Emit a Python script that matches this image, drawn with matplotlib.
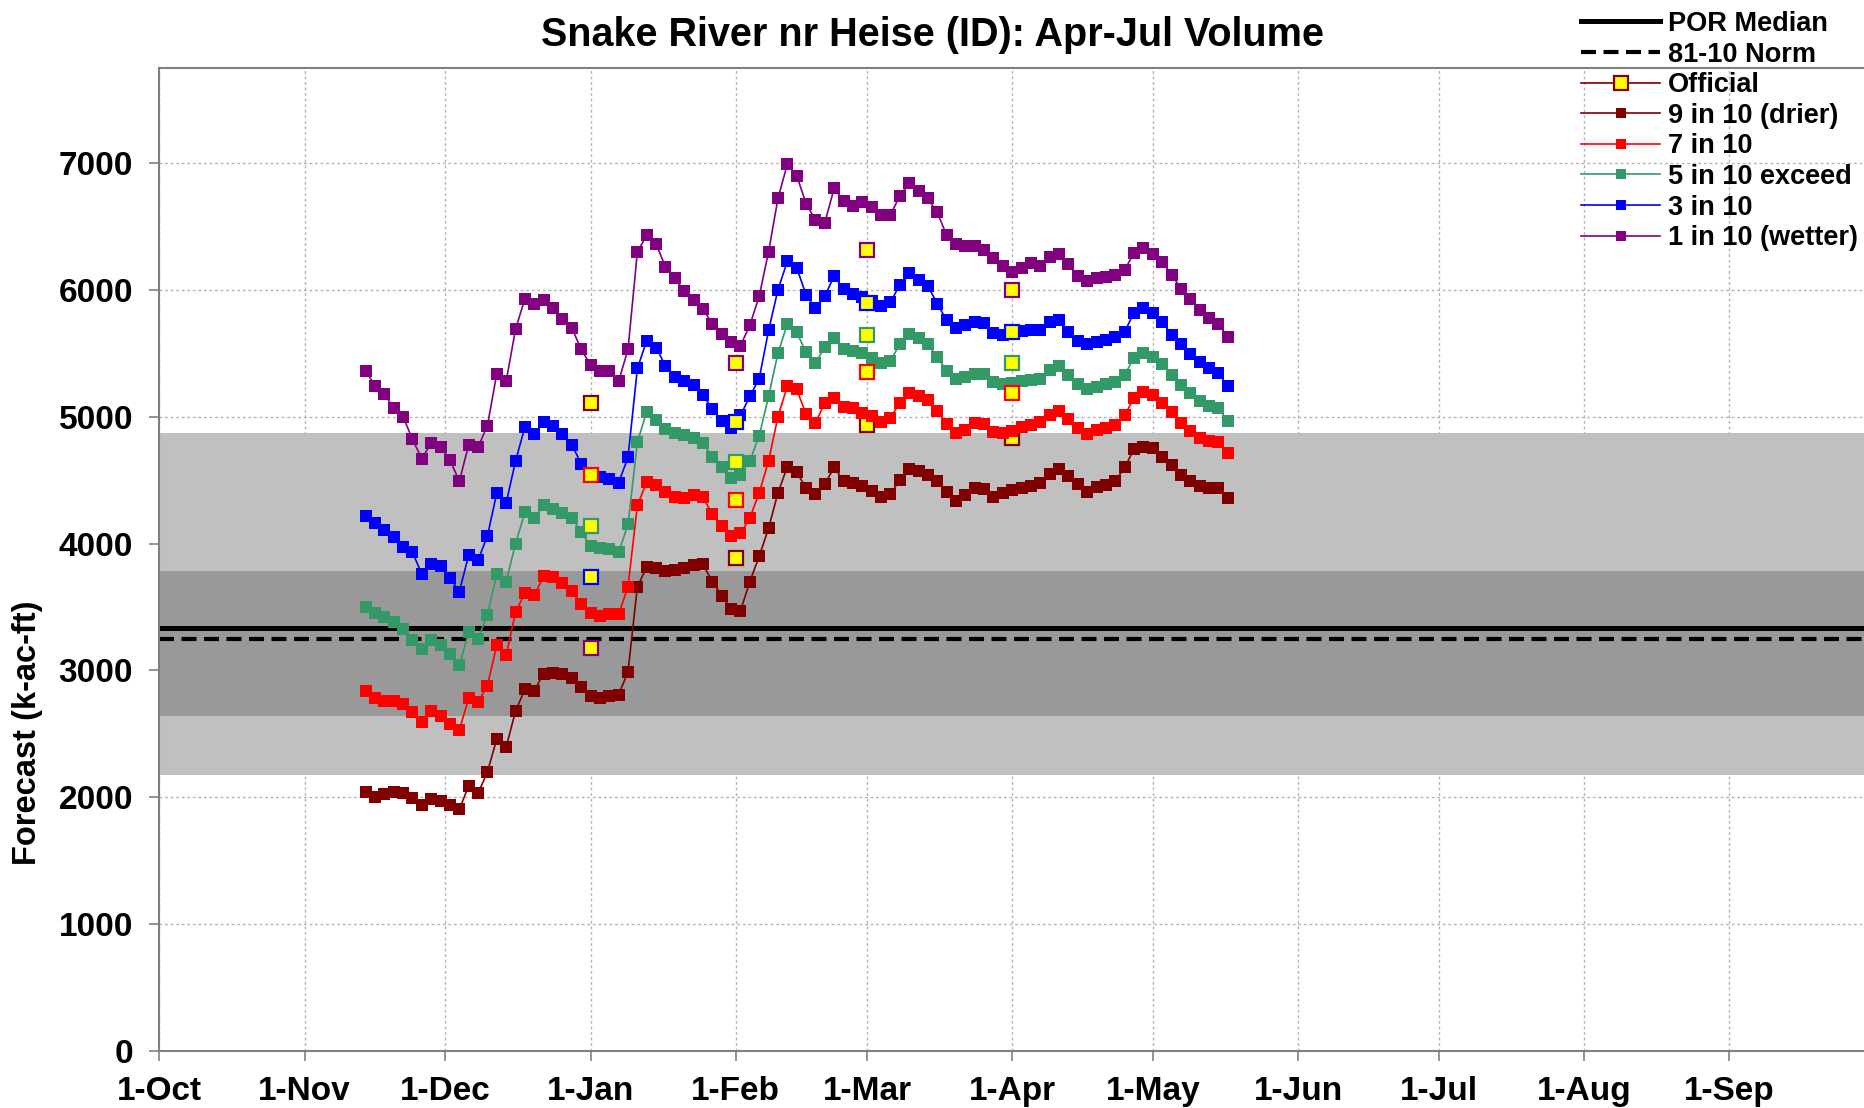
"""
Snake River nr Heise (ID): Apr-Jul volume forecast chart.
Daily-ish exceedance forecasts (read every 2 days) with official
monthly forecasts, POR median / 81-10 normal lines and the
normal ranges as grey bands.
"""

import numpy as np
import pandas as pd
import matplotlib
matplotlib.use("Agg")
import matplotlib.pyplot as plt
import matplotlib.dates as mdates
from matplotlib.lines import Line2D

plt.rcParams["font.family"] = ["Liberation Sans", "DejaVu Sans"]
plt.rcParams["font.weight"] = "bold"

# ----------------------------------------------------------------------
# DATA (k-ac-ft), forecast read every 2 days from 14-Nov to 17-May
# ----------------------------------------------------------------------
FCST_START = "2014-11-14"
FCST_STEP = "2D"

q90 = [2040, 2000, 2028, 2041, 2035, 1990, 1940, 1985, 1968, 1940,
       1905, 2090, 2030, 2200, 2460, 2395, 2680, 2850, 2840, 2975,
       2977, 2975, 2940, 2870, 2800, 2780, 2800, 2808, 2990, 3660,
       3815, 3805, 3782, 3790, 3807, 3830, 3835, 3700, 3590, 3480,
       3470, 3700, 3900, 4120, 4400, 4605, 4560, 4440, 4390, 4470,
       4600, 4495, 4475, 4450, 4415, 4370, 4390, 4500, 4590, 4575,
       4540, 4490, 4410, 4335, 4380, 4440, 4430, 4370, 4395, 4425,
       4438, 4450, 4480, 4545, 4590, 4530, 4470, 4410, 4447, 4465,
       4495, 4600, 4745, 4763, 4750, 4680, 4620, 4540, 4490, 4450,
       4435, 4434, 4355]

q70 = [2840, 2780, 2760, 2755, 2735, 2670, 2590, 2677, 2640, 2575,
       2530, 2780, 2750, 2880, 3200, 3120, 3460, 3610, 3595, 3740,
       3736, 3690, 3625, 3520, 3450, 3430, 3441, 3441, 3660, 4300,
       4485, 4460, 4405, 4370, 4360, 4380, 4365, 4230, 4140, 4060,
       4080, 4200, 4400, 4650, 5000, 5240, 5215, 5020, 4950, 5110,
       5150, 5080, 5066, 5030, 5005, 4960, 4990, 5110, 5190, 5165,
       5130, 5045, 4940, 4875, 4895, 4950, 4940, 4880, 4875, 4890,
       4915, 4938, 4960, 5010, 5045, 4985, 4910, 4860, 4895, 4910,
       4935, 5010, 5150, 5195, 5170, 5110, 5040, 4950, 4885, 4833,
       4806, 4803, 4711]

q50 = [3500, 3455, 3423, 3380, 3330, 3240, 3170, 3243, 3200, 3130,
       3040, 3300, 3250, 3440, 3760, 3700, 4000, 4245, 4200, 4300,
       4270, 4240, 4205, 4090, 3980, 3962, 3955, 3933, 4150, 4800,
       5040, 4970, 4900, 4875, 4855, 4833, 4790, 4680, 4600, 4520,
       4540, 4650, 4850, 5160, 5500, 5730, 5665, 5510, 5420, 5550,
       5620, 5530, 5515, 5500, 5465, 5420, 5440, 5570, 5650, 5618,
       5570, 5470, 5360, 5295, 5310, 5340, 5333, 5275, 5255, 5265,
       5280, 5290, 5300, 5365, 5400, 5330, 5260, 5215, 5235, 5255,
       5275, 5330, 5465, 5500, 5470, 5415, 5330, 5250, 5190, 5125,
       5085, 5068, 4966]

q30 = [4220, 4160, 4105, 4050, 3970, 3930, 3760, 3840, 3820, 3730,
       3620, 3910, 3870, 4060, 4400, 4320, 4650, 4920, 4860, 4960,
       4930, 4860, 4780, 4630, 4540, 4525, 4510, 4480, 4680, 5380,
       5600, 5545, 5400, 5315, 5280, 5250, 5170, 5060, 4965, 4910,
       5010, 5160, 5300, 5680, 6000, 6225, 6175, 5960, 5855, 5950,
       6110, 6005, 5970, 5945, 5915, 5875, 5900, 6040, 6130, 6080,
       6030, 5890, 5760, 5700, 5720, 5745, 5735, 5660, 5645, 5650,
       5675, 5682, 5680, 5745, 5760, 5670, 5600, 5570, 5590, 5605,
       5630, 5670, 5820, 5855, 5815, 5750, 5645, 5570, 5495, 5430,
       5380, 5345, 5240]

q10 = [5360, 5245, 5175, 5070, 5000, 4820, 4670, 4790, 4760, 4660,
       4490, 4780, 4760, 4930, 5340, 5280, 5690, 5930, 5890, 5920,
       5860, 5770, 5700, 5530, 5410, 5360, 5360, 5280, 5530, 6300,
       6430, 6360, 6180, 6090, 5990, 5920, 5850, 5730, 5650, 5590,
       5560, 5720, 5950, 6300, 6720, 6990, 6900, 6680, 6550, 6530,
       6800, 6700, 6660, 6690, 6650, 6590, 6590, 6740, 6840, 6780,
       6720, 6610, 6430, 6365, 6342, 6342, 6316, 6250, 6185, 6140,
       6170, 6210, 6190, 6260, 6280, 6200, 6110, 6070, 6090, 6100,
       6115, 6160, 6290, 6330, 6285, 6220, 6120, 6010, 5930, 5840,
       5780, 5730, 5630]

# official forecasts, 1st of Jan..Apr, grouped by marker edge colour
official_dates = ["2015-01-01", "2015-02-01", "2015-03-01", "2015-04-01"]
official_maroon = [5106, 3882, 4934, 4829]
official_red = [4538, 4342, 5355, 5189]
official_green = [4138, 4645, 5645, 5421]
official_blue = [3736, 4961, 5895, 5671]
official_purple = [3174, 5421, 6316, 6000]

por_median = 3335
norm_8110 = 3245
band_outer = (2175, 4875)
band_inner = (2640, 3785)

MAROON, RED, GREEN, BLUE, PURPLE = "#800000", "#ff0000", "#339966", "#0000ff", "#800080"

# ----------------------------------------------------------------------
# PLOT
# ----------------------------------------------------------------------
fig = plt.figure(figsize=(18.65, 11.08), dpi=100)
ax = fig.add_axes([0.0855, 0.0515, 0.9145, 0.8873])

dates = pd.date_range(FCST_START, periods=len(q10), freq=FCST_STEP)
odates = pd.to_datetime(official_dates)

ax.set_axisbelow(True)
ax.grid(True, color="#b4b4b4", linestyle=(0, (2, 2)), linewidth=1.0)

ax.axhspan(*band_outer, color="#c0c0c0", zorder=1, lw=0)
ax.axhspan(*band_inner, color="#999999", zorder=1.1, lw=0)
ax.axhline(por_median, color="black", lw=3.6, zorder=1.5)
ax.axhline(norm_8110, color="black", lw=3.0, ls=(0, (3.6, 1.8)), zorder=1.5)

off_kw = dict(marker="s", ms=10, mfc="#ffff00", mew=1.6, ls="none")
ax.plot(odates, official_maroon, mec=MAROON, zorder=2, **off_kw)

series = [(q90, MAROON), (q70, RED), (q50, GREEN), (q30, BLUE), (q10, PURPLE)]
for vals, col in series:
    ax.plot(dates, vals, color=col, lw=1.2, marker="s", ms=8.8, mew=0, zorder=3)

for vals, col in [(official_red, RED), (official_green, GREEN),
                  (official_blue, BLUE), (official_purple, PURPLE)]:
    ax.plot(odates, vals, mec=col, zorder=4, **off_kw)

ax.set_xlim(pd.Timestamp("2014-10-01"), pd.Timestamp("2015-09-30"))
ax.set_ylim(0, 7750)
ax.set_yticks(np.arange(0, 7001, 1000))
ax.xaxis.set_major_locator(mdates.MonthLocator(bymonthday=1))
ax.xaxis.set_major_formatter(
    plt.FuncFormatter(lambda v, p: "1-" + mdates.num2date(v).strftime("%b")))
ax.tick_params(axis="both", labelsize=24, length=7, width=1.2, color="#808080")
ax.tick_params(axis="y", pad=12)
ax.tick_params(axis="x", pad=11)

for side in ["left", "top", "bottom"]:
    ax.spines[side].set_color("#808080")
    ax.spines[side].set_linewidth(1.5)
ax.spines["right"].set_visible(False)

fig.text(0.5, 0.968, "Snake River nr Heise (ID): Apr-Jul Volume",
         ha="center", va="center", fontsize=28.5, fontweight="bold")
fig.text(0.015, 0.339, "Forecast (k-ac-ft)", rotation=90, ha="center",
         va="center", fontsize=23.5, fontweight="bold")

# legend
handles = [
    Line2D([], [], color="black", lw=3.6),
    Line2D([], [], color="black", lw=3.0, ls=(0, (3.6, 1.8))),
    Line2D([], [], color=MAROON, lw=1.2, marker="s", ms=10, mfc="#ffff00", mec=MAROON, mew=1.6),
]
for vals, col in series:
    handles.append(Line2D([], [], color=col, lw=1.2, marker="s", ms=7.5, mew=0))
labels = ["POR Median", "81-10 Norm", "Official", "9 in 10 (drier)", "7 in 10",
          "5 in 10 exceed", "3 in 10", "1 in 10 (wetter)"]
fig.legend(handles, labels, loc="upper left", bbox_to_anchor=(0.845, 0.995),
           frameon=False, fontsize=19.5, handlelength=2.9, handletextpad=0.3,
           labelspacing=0.17, borderpad=0.2, borderaxespad=0)

fig.savefig("out.png", dpi=100)
